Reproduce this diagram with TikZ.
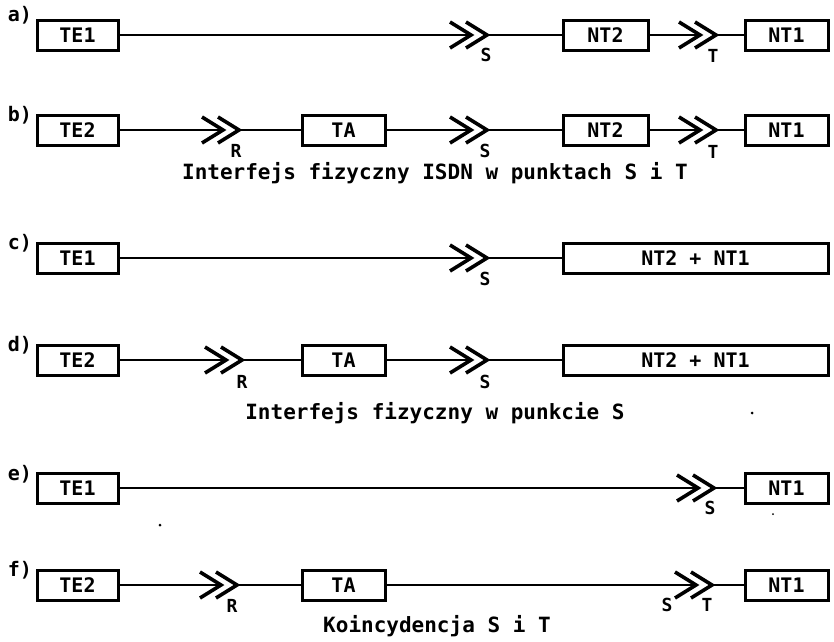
\documentclass[tikz,border=0pt]{standalone}
\usepackage{fontspec}
\newfontfamily\reffont{DejaVu Sans Mono}
\begin{document}
\begin{tikzpicture}[x=1pt,y=-1pt,
  box/.style={draw, line width=3pt, minimum height=30pt, inner sep=0pt,
    font=\reffont\bfseries\fontsize{20}{24}\selectfont},
  wire/.style={line width=2.2pt},
  chevline/.style={line width=3.6pt, line join=miter},
  ptlabel/.style={font=\reffont\bfseries\fontsize{18}{20}\selectfont, inner sep=0pt},
  rowlabel/.style={font=\reffont\bfseries\fontsize{20}{22}\selectfont, inner sep=0pt},
  captxt/.style={font=\reffont\bfseries\fontsize{21}{24}\selectfont, inner sep=0pt},
  dchev/.pic={
    \draw[chevline] (-21,-13) -- (0,0) -- (-21,13);
    \draw[chevline] (-5,-13) -- (16,0) -- (-5,13);
    \coordinate (-in) at (-1,0);
    \coordinate (-out) at (16,0);
  }]
\useasboundingbox (0,0) rectangle (834,641);
\fill[white] (0,0) rectangle (834,641);

% ---------- row a ----------
\node[rowlabel] (la) at (20,15) {a)};
\node[box, minimum width=81pt] (te1a) at (77.5,35) {TE1};
\pic (sa) at (471,35) {dchev};
\node[ptlabel] (sla) at (486,55) {S};
\node[box, minimum width=85pt] (nt2a) at (605.5,35) {NT2};
\pic (ta) at (700,35) {dchev};
\node[ptlabel] (tla) at (713,56) {T};
\node[box, minimum width=83pt] (nt1a) at (786.5,35) {NT1};
\draw[wire] (te1a.east) -- (sa-in);
\draw[wire] (sa-out) -- (nt2a.west);
\draw[wire] (nt2a.east) -- (ta-in);
\draw[wire] (ta-out) -- (nt1a.west);

% ---------- row b ----------
\node[rowlabel] (lb) at (20,115) {b)};
\node[box, minimum width=81pt] (te2b) at (77.5,130) {TE2};
\pic (rb) at (223,130) {dchev};
\node[ptlabel] (rlb) at (236,151) {R};
\node[box, minimum width=83pt] (tab) at (343.5,130) {TA};
\pic (sb) at (471,130) {dchev};
\node[ptlabel] (slb) at (485,151) {S};
\node[box, minimum width=85pt] (nt2b) at (605.5,130) {NT2};
\pic (tb) at (700,130) {dchev};
\node[ptlabel] (tlb) at (713,152) {T};
\node[box, minimum width=83pt] (nt1b) at (786.5,130) {NT1};
\draw[wire] (te2b.east) -- (rb-in);
\draw[wire] (rb-out) -- (tab.west);
\draw[wire] (tab.east) -- (sb-in);
\draw[wire] (sb-out) -- (nt2b.west);
\draw[wire] (nt2b.east) -- (tb-in);
\draw[wire] (tb-out) -- (nt1b.west);
\node[captxt] (capb) at (435,173) {Interfejs fizyczny ISDN w punktach S i T};

% ---------- row c ----------
\node[rowlabel] (lc) at (20,243) {c)};
\node[box, minimum width=81pt] (te1c) at (77.5,258) {TE1};
\pic (sc) at (471,258) {dchev};
\node[ptlabel] (slc) at (485,279) {S};
\node[box, minimum width=265pt] (ntc) at (695.5,258) {NT2 + NT1};
\draw[wire] (te1c.east) -- (sc-in);
\draw[wire] (sc-out) -- (ntc.west);

% ---------- row d ----------
\node[rowlabel] (ld) at (20,345) {d)};
\node[box, minimum width=81pt] (te2d) at (77.5,360) {TE2};
\pic (rd) at (226,360) {dchev};
\node[ptlabel] (rld) at (242,382) {R};
\node[box, minimum width=83pt] (tad) at (343.5,360) {TA};
\pic (sd) at (471,360) {dchev};
\node[ptlabel] (sld) at (485,382) {S};
\node[box, minimum width=265pt] (ntd) at (695.5,360) {NT2 + NT1};
\draw[wire] (te2d.east) -- (rd-in);
\draw[wire] (rd-out) -- (tad.west);
\draw[wire] (tad.east) -- (sd-in);
\draw[wire] (sd-out) -- (ntd.west);
\node[captxt] (capd) at (435,413) {Interfejs fizyczny w punkcie S};
\fill (752,413) circle (1.5pt);

% ---------- row e ----------
\node[rowlabel] (le) at (20,474) {e)};
\node[box, minimum width=81pt] (te1e) at (77.5,488) {TE1};
\pic (se) at (698,488) {dchev};
\node[ptlabel] (sle) at (710,508) {S};
\node[box, minimum width=83pt] (nt1e) at (786.5,488) {NT1};
\draw[wire] (te1e.east) -- (se-in);
\draw[wire] (se-out) -- (nt1e.west);
\fill (160,525) circle (1.5pt);
\fill (773,514) circle (1pt);

% ---------- row f ----------
\node[rowlabel] (lf) at (20,570) {f)};
\node[box, minimum width=81pt] (te2f) at (77.5,585) {TE2};
\pic (rf) at (221,585) {dchev};
\node[ptlabel] (rlf) at (232,606) {R};
\node[box, minimum width=83pt] (taf) at (343.5,585) {TA};
\pic (stf) at (696,585) {dchev};
\node[ptlabel] (slf) at (667,605) {S};
\node[ptlabel] (tlf) at (707,605) {T};
\node[box, minimum width=83pt] (nt1f) at (786.5,585) {NT1};
\draw[wire] (te2f.east) -- (rf-in);
\draw[wire] (rf-out) -- (taf.west);
\draw[wire] (taf.east) -- (stf-in);
\draw[wire] (stf-out) -- (nt1f.west);
\node[captxt] (capf) at (437,626) {Koincydencja S i T};
\end{tikzpicture}
\end{document}
